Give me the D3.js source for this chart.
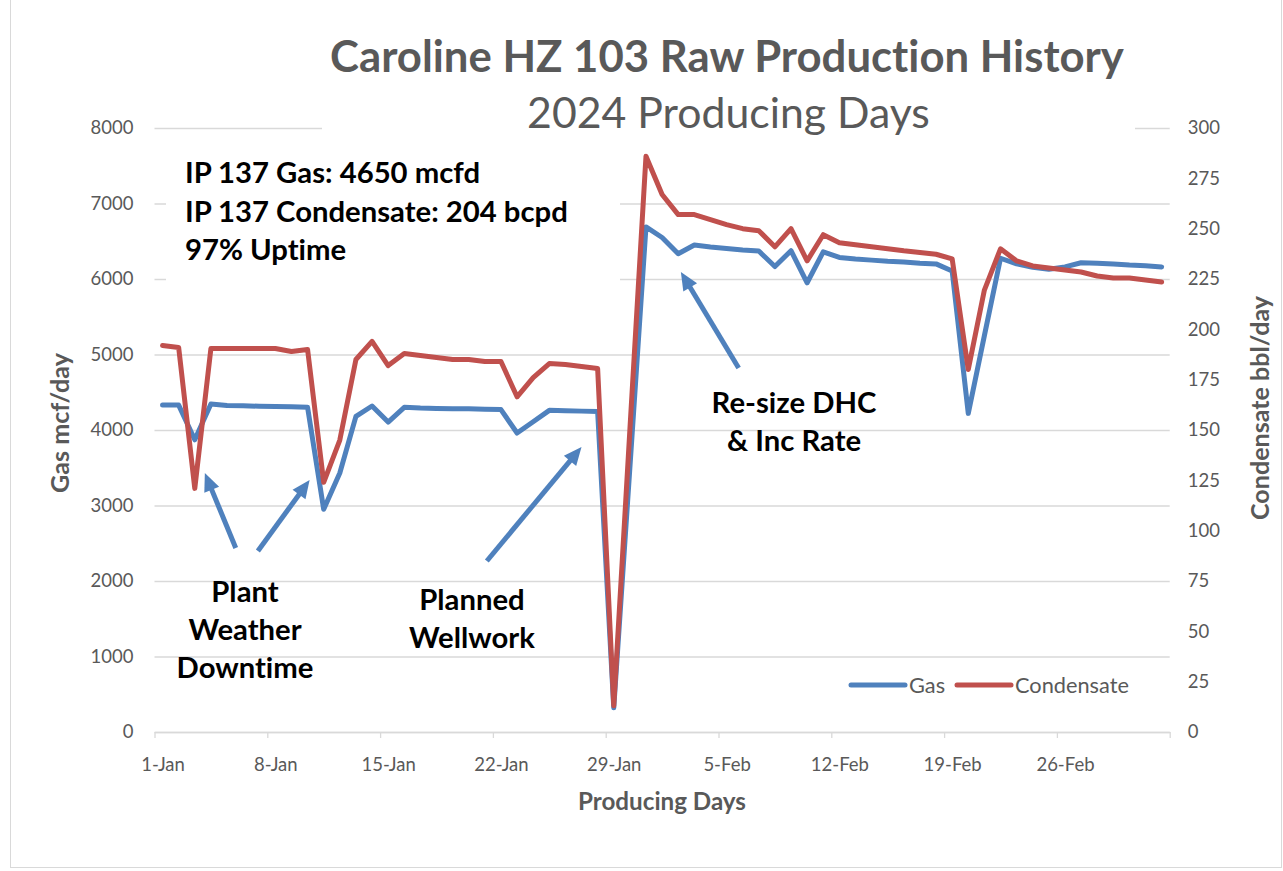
<!DOCTYPE html>
<html>
<head>
<meta charset="utf-8">
<script src="https://cdn.jsdelivr.net/npm/d3@7"></script>
<style>
  body { margin: 0; background: #fff; }
  svg { display: block; font-family: Lato, 'Open Sans', sans-serif; font-variant-ligatures: none; }
</style>
</head>
<body>
<script>
// daily values, starting 1-Jan
const gasValues = [
  4330, 4330, 3870, 4345, 4325, 4320, 4315, 4312, 4308, 4300,
  2950, 3430, 4180, 4318, 4105, 4300, 4290, 4285, 4282, 4280,
  4275, 4270, 3960, 4110, 4260, 4255, 4250, 4245, 320, 3500,
  6690, 6550, 6335, 6450, 6425, 6405, 6385, 6370, 6165, 6375,
  5950, 6360, 6285, 6265, 6250, 6235, 6225, 6210, 6200, 6105,
  4220, 5250, 6275, 6200, 6155, 6130, 6160, 6215, 6210, 6200,
  6185, 6175, 6160
];
const condValues = [
  192, 191, 121, 190.5, 190.5, 190.5, 190.5, 190.5, 189, 190,
  124, 145, 185, 194, 182, 188, 187, 186, 185, 185,
  184, 184, 166.5, 176, 183, 182.5, 181.5, 180.5, 13, 150,
  286, 267, 257, 257, 254.5, 252, 250, 249, 241, 250,
  234, 247, 243, 242, 241, 240, 239, 238.2, 237.3, 235,
  180, 219.5, 240, 234, 231.5, 230.5, 229.5, 228.5, 226.5, 225.5,
  225.5, 224.5, 223.5
];
const tickLabels = ['1-Jan', '8-Jan', '15-Jan', '22-Jan', '29-Jan', '5-Feb', '12-Feb', '19-Feb', '26-Feb'];
const gasTicks = [0, 1000, 2000, 3000, 4000, 5000, 6000, 7000, 8000];
const condTicks = [0, 25, 50, 75, 100, 125, 150, 175, 200, 225, 250, 275, 300];
const seriesNames = ['Gas', 'Condensate'];

const width = 1283, height = 871;
const plotLeft = 154.5, plotRight = 1169.7, plotTop = 128, plotBottom = 732;
const gasColor = '#4f81bd', condColor = '#c0504d', gridColor = '#d9d9d9', textGray = '#595959';
const tickFont = '18.5px';

const start = new Date(Date.UTC(2024, 0, 1));
const days = gasValues.map((_, i) => d3.utcDay.offset(start, i));
const tickDates = d3.range(10).map(i => d3.utcDay.offset(start, 7 * i));

const svg = d3.select('body').append('svg')
  .attr('width', width)
  .attr('height', height);

// outer chart border
svg.append('rect')
  .attr('x', 10.5).attr('y', -2)
  .attr('width', 1271).attr('height', 869.5)
  .attr('fill', 'none')
  .attr('stroke', gridColor);

const x = d3.scaleUtc()
  .domain([start, d3.utcDay.offset(start, 63)])
  .range([plotLeft, plotRight]);

const yGas = d3.scaleLinear()
  .domain([0, 8000])
  .range([plotBottom, plotTop]);

const yCond = d3.scaleLinear()
  .domain([0, 300])
  .range([plotBottom, plotTop]);

const halfDay = x(d3.utcHour.offset(start, 12)) - x(start);

// gridlines
svg.append('g')
  .attr('transform', `translate(${plotLeft},0)`)
  .call(d3.axisLeft(yGas).tickValues(gasTicks).tickSize(-(plotRight - plotLeft)).tickFormat(''))
  .call(g => g.select('.domain').remove())
  .selectAll('line')
  .attr('stroke', gridColor)
  .attr('stroke-width', 1.3);

// white boxes behind the title and the IP note (they hide the gridlines)
svg.append('rect')
  .attr('x', 322).attr('y', 20).attr('width', 813).attr('height', 120)
  .attr('fill', '#fff');
svg.append('rect')
  .attr('x', 166).attr('y', 140).attr('width', 454).attr('height', 160)
  .attr('fill', '#fff');

// x axis
const xAxis = svg.append('g')
  .attr('transform', `translate(0,${plotBottom})`)
  .call(d3.axisBottom(x)
    .tickValues(tickDates)
    .tickSize(6)
    .tickSizeOuter(0)
    .tickPadding(20)
    .tickFormat((d, i) => tickLabels[i] || ''));
xAxis.selectAll('line, path').attr('stroke', gridColor).attr('stroke-width', 1.3);
xAxis.selectAll('text')
  .attr('dx', halfDay)
  .attr('fill', textGray)
  .style('font-size', tickFont)
  .style('font-family', 'Lato');

// left axis
const yAxisL = svg.append('g')
  .attr('transform', `translate(${plotLeft},0)`)
  .call(d3.axisLeft(yGas).tickValues(gasTicks).tickSize(0).tickPadding(21).tickFormat(d3.format('d')));
yAxisL.select('.domain').remove();
yAxisL.selectAll('text')
  .attr('fill', textGray)
  .style('font-size', tickFont)
  .style('font-family', 'Lato');

// right axis
const yAxisR = svg.append('g')
  .attr('transform', `translate(${plotRight},0)`)
  .call(d3.axisRight(yCond).tickValues(condTicks).tickSize(0).tickPadding(18));
yAxisR.select('.domain').remove();
yAxisR.selectAll('text')
  .attr('fill', textGray)
  .style('font-size', tickFont)
  .style('font-family', 'Lato');

// series lines
const gasLine = d3.line()
  .x((d, i) => x(d3.utcHour.offset(days[i], 12)))
  .y(d => yGas(d));

const condLine = d3.line()
  .x((d, i) => x(d3.utcHour.offset(days[i], 12)))
  .y(d => yCond(d));

svg.append('path')
  .attr('d', gasLine(gasValues))
  .attr('fill', 'none')
  .attr('stroke', gasColor)
  .attr('stroke-width', 5)
  .attr('stroke-linejoin', 'round')
  .attr('stroke-linecap', 'round');

svg.append('path')
  .attr('d', condLine(condValues))
  .attr('fill', 'none')
  .attr('stroke', condColor)
  .attr('stroke-width', 5)
  .attr('stroke-linejoin', 'round')
  .attr('stroke-linecap', 'round');

// fit a text element's font size to a width
function fitText(sel, w) {
  const len = sel.node().getComputedTextLength();
  const size = parseFloat(sel.attr('font-size'));
  const fitted = size * w / len;
  sel.attr('font-size', fitted);
  return fitted;
}

// titles
const title = svg.append('text')
  .attr('x', 727).attr('y', 72)
  .attr('text-anchor', 'middle')
  .attr('font-size', 40)
  .attr('font-weight', 'bold')
  .attr('fill', textGray)
  .text('Caroline HZ 103 Raw Production History');
fitText(title, 794);

const subtitle = svg.append('text')
  .attr('x', 728.5).attr('y', 128)
  .attr('text-anchor', 'middle')
  .attr('font-size', 40)
  .attr('fill', textGray)
  .text('2024 Producing Days');
fitText(subtitle, 403);

// axis titles
const gasTitle = svg.append('text')
  .attr('transform', 'translate(69,423) rotate(-90)')
  .attr('text-anchor', 'middle')
  .attr('font-size', 20)
  .attr('font-weight', 'bold')
  .attr('fill', textGray)
  .text('Gas mcf/day');
fitText(gasTitle, 140);

const condTitle = svg.append('text')
  .attr('transform', 'translate(1269,408) rotate(-90)')
  .attr('text-anchor', 'middle')
  .attr('font-size', 20)
  .attr('font-weight', 'bold')
  .attr('fill', textGray)
  .text('Condensate bbl/day');
fitText(condTitle, 224);

const xTitle = svg.append('text')
  .attr('x', 662).attr('y', 810)
  .attr('text-anchor', 'middle')
  .attr('font-size', 20)
  .attr('font-weight', 'bold')
  .attr('fill', textGray)
  .text('Producing Days');
fitText(xTitle, 168);

// IP note
const noteLines = ['IP 137 Gas: 4650 mcfd', 'IP 137 Condensate: 204 bcpd', '97% Uptime'];
const note = svg.append('g');
note.selectAll('text')
  .data(noteLines)
  .join('text')
  .attr('x', 185)
  .attr('y', (d, i) => 183 + i * 38.5)
  .attr('font-size', 26)
  .attr('font-weight', 'bold')
  .attr('fill', '#000')
  .text(d => d);
const noteSize = fitText(note.select('text:nth-child(2)'), 383);
note.selectAll('text').attr('font-size', noteSize);

// callouts
const callouts = [
  { lines: ['Plant', 'Weather', 'Downtime'], x: 245, y: 602 },
  { lines: ['Planned', 'Wellwork'], x: 472, y: 610 },
  { lines: ['Re-size DHC', '& Inc Rate'], x: 794, y: 413 }
];
callouts.forEach(c => {
  svg.append('g').selectAll('text')
    .data(c.lines)
    .join('text')
    .attr('x', c.x)
    .attr('y', (d, i) => c.y + i * 38)
    .attr('text-anchor', 'middle')
    .attr('font-size', noteSize)
    .attr('font-weight', 'bold')
    .attr('fill', '#000')
    .text(d => d);
});

// arrows, placed in day / gas units
const arrows = [
  { from: [5.06, 2437], to: [3.13, 3430] },
  { from: [6.42, 2397], to: [9.65, 3338] },
  { from: [20.63, 2265], to: [26.53, 3775] },
  { from: [36.27, 4821], to: [32.67, 6093] }
];
const dayX = d => x(d3.utcHour.offset(start, d * 24));
arrows.forEach(a => {
  const x0 = dayX(a.from[0]), y0 = yGas(a.from[1]);
  const x1 = dayX(a.to[0]), y1 = yGas(a.to[1]);
  const len = Math.hypot(x1 - x0, y1 - y0);
  const ux = (x1 - x0) / len, uy = (y1 - y0) / len;
  const head = 18, half = 8;
  const bx = x1 - ux * head, by = y1 - uy * head;
  svg.append('line')
    .attr('x1', x0).attr('y1', y0)
    .attr('x2', bx + ux * 2).attr('y2', by + uy * 2)
    .attr('stroke', gasColor)
    .attr('stroke-width', 5);
  svg.append('path')
    .attr('d', `M${x1},${y1}L${bx - uy * half},${by + ux * half}L${bx + uy * half},${by - ux * half}Z`)
    .attr('fill', gasColor);
});

// legend
const legend = svg.append('g').attr('transform', 'translate(851,685)');
const legendItems = legend.selectAll('g')
  .data(seriesNames)
  .join('g')
  .attr('transform', (d, i) => `translate(${i * 106},0)`);
legendItems.append('line')
  .attr('x1', 0).attr('x2', 54)
  .attr('stroke', (d, i) => i ? condColor : gasColor)
  .attr('stroke-width', 5)
  .attr('stroke-linecap', 'round');
legendItems.append('text')
  .attr('x', 58)
  .attr('y', 7.5)
  .attr('font-size', 20)
  .attr('fill', textGray)
  .text(d => d);
const legendSize = fitText(legendItems.filter((d, i) => i === 1).select('text'), 114);
legendItems.selectAll('text').attr('font-size', legendSize);
</script>
</body>
</html>
